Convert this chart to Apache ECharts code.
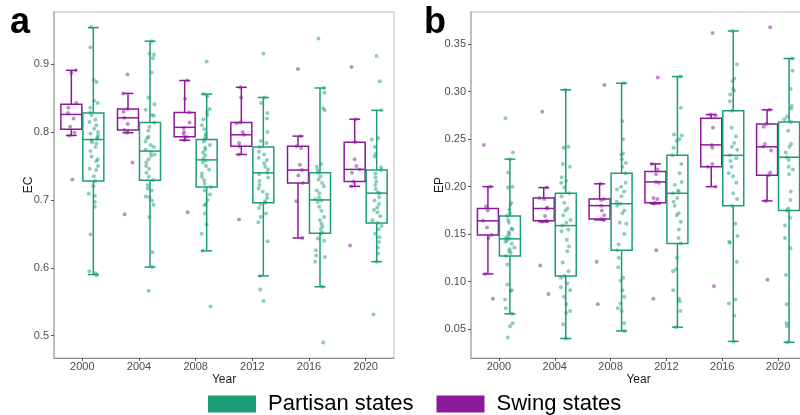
<!DOCTYPE html>
<html>
<head>
<meta charset="utf-8">
<script src="https://cdn.jsdelivr.net/npm/echarts@6/dist/echarts.min.js"></script>
<style>
html,body{margin:0;padding:0;background:#fff;}
#chart{width:800px;height:415px;}
</style>
</head>
<body>
<div id="chart"></div>
<script>
// ---------- DATA ----------
const years = ['2000', '2004', '2008', '2012', '2016', '2020'];
const ecTicks = [0.5, 0.6, 0.7, 0.8, 0.9];
const epTicks = [0.05, 0.10, 0.15, 0.20, 0.25, 0.30, 0.35];

// box stats: [lower whisker, Q1, median, Q3, upper whisker]
const ecSwingBox = [
  [0.795, 0.804, 0.826, 0.841, 0.891],
  [0.799, 0.803, 0.821, 0.834, 0.857],
  [0.788, 0.793, 0.807, 0.829, 0.876],
  [0.767, 0.779, 0.796, 0.814, 0.866],
  [0.644, 0.725, 0.744, 0.779, 0.794],
  [0.720, 0.727, 0.745, 0.785, 0.819]
];
const ecPartisanBox = [
  [0.590, 0.728, 0.789, 0.828, 0.954],
  [0.601, 0.729, 0.772, 0.814, 0.934],
  [0.625, 0.719, 0.759, 0.789, 0.856],
  [0.588, 0.696, 0.740, 0.778, 0.851],
  [0.572, 0.651, 0.700, 0.740, 0.865],
  [0.609, 0.666, 0.710, 0.744, 0.832]
];
const epSwingBox = [
  [0.108, 0.149, 0.164, 0.177, 0.200],
  [0.163, 0.164, 0.177, 0.188, 0.199],
  [0.165, 0.166, 0.180, 0.187, 0.203],
  [0.182, 0.183, 0.205, 0.216, 0.224],
  [0.200, 0.221, 0.244, 0.272, 0.276],
  [0.185, 0.212, 0.242, 0.266, 0.281]
];
const epPartisanBox = [
  [0.066, 0.127, 0.145, 0.169, 0.229],
  [0.040, 0.106, 0.159, 0.193, 0.302],
  [0.048, 0.133, 0.182, 0.214, 0.309],
  [0.052, 0.140, 0.193, 0.233, 0.316],
  [0.037, 0.180, 0.233, 0.280, 0.364],
  [0.036, 0.175, 0.231, 0.268, 0.335]
];

// individual state values (jittered points)
const ecSwing2000 = [0.891, 0.887, 0.843, 0.836, 0.828, 0.820, 0.808, 0.799, 0.795, 0.730];
const ecSwing2004 = [0.885, 0.857, 0.834, 0.830, 0.821, 0.812, 0.803, 0.799, 0.755, 0.679];
const ecSwing2008 = [0.876, 0.849, 0.829, 0.814, 0.806, 0.800, 0.797, 0.793, 0.788, 0.682];
const ecSwing2012 = [0.866, 0.851, 0.814, 0.813, 0.800, 0.796, 0.784, 0.779, 0.767, 0.671];
const ecSwing2016 = [0.893, 0.794, 0.779, 0.776, 0.752, 0.744, 0.736, 0.725, 0.698, 0.644];
const ecSwing2020 = [0.896, 0.819, 0.785, 0.760, 0.750, 0.745, 0.740, 0.727, 0.720, 0.633];

const ecPartisan2000 = [0.955, 0.925, 0.877, 0.874, 0.846, 0.843, 0.836, 0.829, 0.825, 0.818, 0.815, 0.810, 0.805, 0.800, 0.798, 0.795, 0.792, 0.790, 0.788, 0.785, 0.783, 0.778, 0.772, 0.764, 0.760, 0.757, 0.750, 0.746, 0.744, 0.735, 0.728, 0.720, 0.709, 0.706, 0.697, 0.690, 0.649, 0.595, 0.592, 0.589];
const ecPartisan2004 = [0.934, 0.916, 0.914, 0.909, 0.888, 0.851, 0.841, 0.833, 0.825, 0.824, 0.814, 0.808, 0.802, 0.793, 0.791, 0.786, 0.781, 0.778, 0.774, 0.770, 0.767, 0.765, 0.760, 0.755, 0.750, 0.746, 0.740, 0.734, 0.729, 0.722, 0.717, 0.714, 0.705, 0.704, 0.699, 0.693, 0.675, 0.623, 0.601, 0.566];
const ecPartisan2008 = [0.904, 0.856, 0.853, 0.834, 0.830, 0.825, 0.819, 0.810, 0.804, 0.797, 0.793, 0.789, 0.786, 0.781, 0.777, 0.774, 0.770, 0.766, 0.761, 0.758, 0.755, 0.750, 0.745, 0.739, 0.734, 0.729, 0.724, 0.719, 0.714, 0.708, 0.700, 0.694, 0.692, 0.680, 0.664, 0.650, 0.625, 0.543];
const ecPartisan2012 = [0.916, 0.851, 0.843, 0.828, 0.820, 0.800, 0.787, 0.784, 0.778, 0.771, 0.767, 0.762, 0.759, 0.754, 0.749, 0.745, 0.740, 0.738, 0.733, 0.728, 0.722, 0.717, 0.712, 0.708, 0.703, 0.698, 0.696, 0.694, 0.688, 0.680, 0.675, 0.667, 0.639, 0.588, 0.568, 0.551];
const ecPartisan2016 = [0.938, 0.865, 0.858, 0.835, 0.832, 0.753, 0.749, 0.744, 0.740, 0.735, 0.730, 0.725, 0.720, 0.714, 0.710, 0.704, 0.701, 0.699, 0.697, 0.690, 0.684, 0.675, 0.670, 0.665, 0.661, 0.657, 0.652, 0.651, 0.643, 0.640, 0.626, 0.618, 0.616, 0.609, 0.572, 0.490];
const ecPartisan2020 = [0.912, 0.875, 0.832, 0.791, 0.789, 0.778, 0.768, 0.764, 0.748, 0.744, 0.739, 0.733, 0.727, 0.722, 0.716, 0.711, 0.710, 0.704, 0.699, 0.694, 0.689, 0.685, 0.682, 0.676, 0.670, 0.666, 0.662, 0.657, 0.650, 0.645, 0.638, 0.630, 0.621, 0.609, 0.531];

const epSwing2000 = [0.244, 0.200, 0.179, 0.175, 0.164, 0.157, 0.149, 0.146, 0.108, 0.082];
const epSwing2004 = [0.279, 0.199, 0.188, 0.187, 0.178, 0.177, 0.169, 0.164, 0.163, 0.117, 0.087];
const epSwing2008 = [0.307, 0.203, 0.187, 0.186, 0.180, 0.175, 0.170, 0.166, 0.165, 0.121, 0.076];
const epSwing2012 = [0.315, 0.224, 0.218, 0.213, 0.205, 0.204, 0.188, 0.187, 0.183, 0.182, 0.133, 0.082];
const epSwing2016 = [0.362, 0.276, 0.275, 0.262, 0.244, 0.241, 0.224, 0.221, 0.200, 0.095];
const epSwing2020 = [0.368, 0.281, 0.266, 0.263, 0.245, 0.242, 0.238, 0.215, 0.212, 0.185, 0.102];

const epPartisan2000 = [0.272, 0.236, 0.229, 0.215, 0.200, 0.199, 0.183, 0.181, 0.176, 0.172, 0.169, 0.165, 0.162, 0.156, 0.155, 0.152, 0.150, 0.148, 0.146, 0.145, 0.143, 0.142, 0.140, 0.136, 0.134, 0.132, 0.130, 0.127, 0.118, 0.097, 0.091, 0.090, 0.081, 0.072, 0.066, 0.056, 0.053, 0.041];
const epPartisan2004 = [0.302, 0.242, 0.241, 0.224, 0.221, 0.210, 0.206, 0.204, 0.199, 0.193, 0.190, 0.183, 0.177, 0.175, 0.170, 0.165, 0.162, 0.159, 0.155, 0.153, 0.144, 0.137, 0.132, 0.120, 0.111, 0.106, 0.104, 0.098, 0.094, 0.091, 0.084, 0.076, 0.069, 0.067, 0.055, 0.040];
const epPartisan2008 = [0.309, 0.269, 0.250, 0.235, 0.234, 0.229, 0.225, 0.221, 0.214, 0.204, 0.200, 0.197, 0.195, 0.190, 0.184, 0.182, 0.180, 0.175, 0.172, 0.162, 0.161, 0.150, 0.139, 0.133, 0.125, 0.115, 0.104, 0.101, 0.091, 0.084, 0.077, 0.072, 0.069, 0.056, 0.048];
const epPartisan2012 = [0.316, 0.283, 0.255, 0.254, 0.250, 0.248, 0.241, 0.233, 0.224, 0.214, 0.205, 0.202, 0.196, 0.194, 0.193, 0.188, 0.184, 0.180, 0.172, 0.170, 0.163, 0.155, 0.146, 0.140, 0.125, 0.113, 0.111, 0.091, 0.082, 0.079, 0.069, 0.052];
const epPartisan2016 = [0.364, 0.329, 0.314, 0.311, 0.303, 0.301, 0.297, 0.290, 0.280, 0.262, 0.253, 0.246, 0.242, 0.239, 0.233, 0.230, 0.227, 0.221, 0.214, 0.211, 0.204, 0.193, 0.187, 0.180, 0.161, 0.148, 0.142, 0.141, 0.121, 0.081, 0.077, 0.064, 0.037];
const epPartisan2020 = [0.335, 0.322, 0.303, 0.285, 0.282, 0.274, 0.271, 0.268, 0.259, 0.245, 0.242, 0.236, 0.231, 0.228, 0.221, 0.218, 0.213, 0.195, 0.186, 0.177, 0.175, 0.167, 0.159, 0.146, 0.135, 0.107, 0.076, 0.056, 0.053, 0.036];

// ---------- CHART ----------
const GREEN = '#1b9e77';
const PURPLE = '#8b1a9b';
const FONT = '"Liberation Sans", Arial, sans-serif';

const ecSwingPts = [ecSwing2000, ecSwing2004, ecSwing2008, ecSwing2012, ecSwing2016, ecSwing2020];
const ecPartisanPts = [ecPartisan2000, ecPartisan2004, ecPartisan2008, ecPartisan2012, ecPartisan2016, ecPartisan2020];
const epSwingPts = [epSwing2000, epSwing2004, epSwing2008, epSwing2012, epSwing2016, epSwing2020];
const epPartisanPts = [epPartisan2000, epPartisan2004, epPartisan2008, epPartisan2012, epPartisan2016, epPartisan2020];

function toPoints(groups) {
  const out = [];
  groups.forEach((vals, i) => vals.forEach(v => out.push([i, v])));
  return out;
}
function toBoxes(stats) {
  return stats.map((s, i) => [i].concat(s));
}

function makeRender(offset, color) {
  return function (params, api) {
    const cat = api.value(0);
    const lo = api.coord([cat, api.value(1)]);
    const q1 = api.coord([cat, api.value(2)]);
    const md = api.coord([cat, api.value(3)]);
    const q3 = api.coord([cat, api.value(4)]);
    const hi = api.coord([cat, api.value(5)]);
    const x = lo[0] + offset;
    const hw = 10.5, cw = 5.5;
    const style = { stroke: color, lineWidth: 1.5, fill: null };
    return {
      type: 'group',
      children: [
        { type: 'line', shape: { x1: x, y1: hi[1], x2: x, y2: q3[1] }, style: style },
        { type: 'line', shape: { x1: x, y1: q1[1], x2: x, y2: lo[1] }, style: style },
        { type: 'line', shape: { x1: x - cw, y1: hi[1], x2: x + cw, y2: hi[1] }, style: style },
        { type: 'line', shape: { x1: x - cw, y1: lo[1], x2: x + cw, y2: lo[1] }, style: style },
        { type: 'rect', shape: { x: x - hw, y: q3[1], width: 2 * hw, height: q1[1] - q3[1] }, style: style },
        { type: 'line', shape: { x1: x - hw, y1: md[1], x2: x + hw, y2: md[1] }, style: style }
      ]
    };
  };
}

const panels = [
  { left: 54, width: 340, min: 0.467, max: 0.977, ticks: ecTicks, dec: 1, name: 'EC', nameGap: 19,
    swingBox: ecSwingBox, partisanBox: ecPartisanBox, swingPts: ecSwingPts, partisanPts: ecPartisanPts },
  { left: 471, width: 335, min: 0.0195, max: 0.384, ticks: epTicks, dec: 2, name: 'EP', nameGap: 25,
    swingBox: epSwingBox, partisanBox: epPartisanBox, swingPts: epSwingPts, partisanPts: epPartisanPts }
];

const TOP = 12, HEIGHT = 346, SHIFT = 11;
const grid = [], xAxis = [], yAxis = [], series = [];

panels.forEach((p, k) => {
  const g0 = grid.length;
  grid.push({ left: p.left, top: TOP, width: p.width, height: HEIGHT, show: true,
    borderColor: '#b8b8b8', borderWidth: 1, backgroundColor: 'transparent', outerBoundsMode: 'none' });
  grid.push({ left: p.left - SHIFT, top: TOP, width: p.width, height: HEIGHT, outerBoundsMode: 'none' });
  grid.push({ left: p.left + SHIFT, top: TOP, width: p.width, height: HEIGHT, outerBoundsMode: 'none' });

  xAxis.push({
    type: 'category', gridIndex: g0, data: years,
    name: 'Year', nameLocation: 'middle', nameGap: 16, nameMoveOverlap: false,
    nameTextStyle: { fontFamily: FONT, fontSize: 12, color: '#1a1a1a' },
    axisLine: { show: true, lineStyle: { color: '#8a8a8a', width: 1 } },
    axisTick: { show: true, alignWithLabel: true, length: 3, lineStyle: { color: '#555' } },
    axisLabel: { margin: 3, fontFamily: FONT, fontSize: 11, color: '#4d4d4d' },
    splitLine: { show: false }
  });
  yAxis.push({
    type: 'value', gridIndex: g0, min: p.min, max: p.max, scale: true,
    name: p.name, nameLocation: 'middle', nameGap: p.nameGap, nameMoveOverlap: false,
    nameTextStyle: { fontFamily: FONT, fontSize: 12, color: '#1a1a1a' },
    axisLine: { show: true, lineStyle: { color: '#bdbdbd', width: 2 } },
    axisTick: { show: true, length: 3, lineStyle: { color: '#555' }, customValues: p.ticks },
    axisLabel: { margin: 5, fontFamily: FONT, fontSize: 11, color: '#4d4d4d',
      customValues: p.ticks, formatter: v => Number(v).toFixed(p.dec) },
    splitLine: { show: false }
  });
  [g0 + 1, g0 + 2].forEach(gi => {
    xAxis.push({ type: 'category', gridIndex: gi, data: years, show: false, jitter: 10, jitterOverlap: true });
    yAxis.push({ type: 'value', gridIndex: gi, min: p.min, max: p.max, scale: true, show: false, splitLine: { show: false } });
  });

  series.push({
    type: 'custom', name: 'Swing states', xAxisIndex: g0, yAxisIndex: g0,
    renderItem: makeRender(-SHIFT, PURPLE), itemStyle: { color: PURPLE },
    encode: { x: 0, y: [1, 2, 3, 4, 5] }, data: toBoxes(p.swingBox), z: 2
  });
  series.push({
    type: 'custom', name: 'Partisan states', xAxisIndex: g0, yAxisIndex: g0,
    renderItem: makeRender(SHIFT, GREEN), itemStyle: { color: GREEN },
    encode: { x: 0, y: [1, 2, 3, 4, 5] }, data: toBoxes(p.partisanBox), z: 2
  });
  series.push({
    type: 'scatter', name: 'Swing states', xAxisIndex: g0 + 1, yAxisIndex: g0 + 1,
    symbolSize: 4, itemStyle: { color: PURPLE, opacity: 0.5 },
    data: toPoints(p.swingPts), z: 3, silent: true
  });
  series.push({
    type: 'scatter', name: 'Partisan states', xAxisIndex: g0 + 2, yAxisIndex: g0 + 2,
    symbolSize: 4, itemStyle: { color: GREEN, opacity: 0.5 },
    data: toPoints(p.partisanPts), z: 3, silent: true
  });
});

const chart = echarts.init(document.getElementById('chart'), null, { renderer: 'canvas' });
chart.setOption({
  backgroundColor: '#ffffff',
  animation: false,
  title: [
    { text: 'a', left: 10, top: 5, padding: 0, textStyle: { fontFamily: FONT, fontSize: 36, fontWeight: 'bold', color: '#000' } },
    { text: 'b', left: 424, top: 5, padding: 0, textStyle: { fontFamily: FONT, fontSize: 36, fontWeight: 'bold', color: '#000' } }
  ],
  legend: {
    left: 208, top: 393, padding: 0, orient: 'horizontal',
    itemWidth: 48, itemHeight: 17, itemGap: 23, icon: 'rect', selectedMode: false,
    textStyle: { fontFamily: FONT, fontSize: 22, color: '#000', padding: [0, 0, 0, 7] },
    data: [
      { name: 'Partisan states', icon: 'rect', itemStyle: { color: GREEN, opacity: 1 } },
      { name: 'Swing states', icon: 'rect', itemStyle: { color: PURPLE, opacity: 1 } }
    ]
  },
  grid: grid, xAxis: xAxis, yAxis: yAxis, series: series
});
</script>
</body>
</html>
